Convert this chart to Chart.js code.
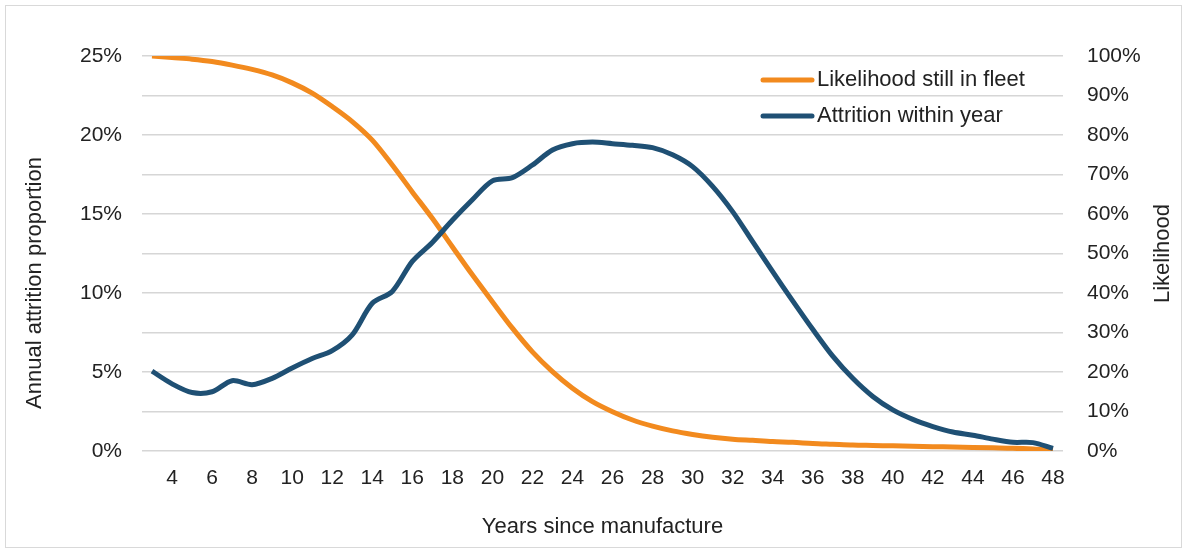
<!DOCTYPE html>
<html>
<head>
<meta charset="utf-8">
<script src="https://cdn.jsdelivr.net/npm/chart.js@4.4.1/dist/chart.umd.min.js"></script>
<style>
  html, body { margin: 0; padding: 0; background: #ffffff; }
  #wrap { width: 1187px; height: 553px; position: relative; }
</style>
</head>
<body>
<div id="wrap"><canvas id="c" width="1187" height="553"></canvas></div>
<script>
const years = [3,4,5,6,7,8,9,10,11,12,13,14,15,16,17,18,19,20,21,22,23,24,25,26,27,28,29,30,31,32,33,34,35,36,37,38,39,40,41,42,43,44,45,46,47,48];

const likelihoodStillInFleet = [100,99.6,99.2,98.6,97.7,96.6,95.2,93.2,90.6,87.2,83.4,78.7,72.4,65.6,58.9,51.7,44.6,37.8,31.1,25.1,20.1,15.9,12.5,9.95,7.85,6.3,5.1,4.2,3.5,3.0,2.7,2.4,2.2,1.9,1.7,1.5,1.4,1.3,1.2,1.1,1.0,0.9,0.8,0.7,0.5,0.2];

const attritionWithinYear = [5.05,4.25,3.7,3.75,4.45,4.2,4.6,5.25,5.85,6.35,7.35,9.35,10.1,12.0,13.2,14.6,15.9,17.1,17.3,18.1,19.05,19.45,19.55,19.45,19.35,19.2,18.75,18.0,16.75,15.15,13.25,11.35,9.5,7.7,6.0,4.6,3.45,2.6,2.0,1.55,1.2,1.0,0.75,0.55,0.53,0.17];

const leftTicks = [0,5,10,15,20,25];
const rightTicks = [0,10,20,30,40,50,60,70,80,90,100];

const seriesNames = ['Likelihood still in fleet', 'Attrition within year'];
const axisTitles = { x: 'Years since manufacture', left: 'Annual attrition proportion', right: 'Likelihood' };

const ORANGE = '#F28A1E';
const BLUE = '#1F5074';
const TEXT = '#222222';
const FONT = "'Liberation Sans', Arial, sans-serif";

const extrasPlugin = {
  id: 'extras',
  beforeDraw(chart) {
    const ctx = chart.ctx;
    ctx.save();
    ctx.fillStyle = '#ffffff';
    ctx.fillRect(0, 0, chart.width, chart.height);
    ctx.strokeStyle = '#d9d9d9';
    ctx.lineWidth = 1;
    ctx.strokeRect(5.5, 5.5, chart.width - 11, chart.height - 11);
    ctx.restore();
  },
  afterDraw(chart) {
    const ctx = chart.ctx;
    const area = chart.chartArea;
    ctx.save();
    // axis titles (both reading bottom-to-top)
    ctx.fillStyle = TEXT;
    ctx.font = "22px " + FONT;
    ctx.textAlign = 'center';
    ctx.textBaseline = 'middle';
    ctx.save();
    ctx.translate(35, 283);
    ctx.rotate(-Math.PI / 2);
    ctx.fillText(axisTitles.left, 0, 0);
    ctx.restore();
    ctx.save();
    ctx.translate(1163, (area.top + area.bottom) / 2);
    ctx.rotate(-Math.PI / 2);
    ctx.fillText(axisTitles.right, 0, 0);
    ctx.restore();
    // legend
    const items = [
      { text: seriesNames[0], color: ORANGE },
      { text: seriesNames[1], color: BLUE }
    ];
    ctx.font = "22px " + FONT;
    ctx.textAlign = 'left';
    items.forEach((it, i) => {
      const y = 80 + i * 36;
      ctx.strokeStyle = it.color;
      ctx.lineWidth = 5;
      ctx.lineCap = 'round';
      ctx.beginPath();
      ctx.moveTo(763, y);
      ctx.lineTo(812, y);
      ctx.stroke();
      ctx.fillStyle = TEXT;
      ctx.fillText(it.text, 817, y);
    });
    ctx.restore();
  }
};

new Chart(document.getElementById('c'), {
  type: 'line',
  data: {
    labels: years,
    datasets: [
      {
        label: seriesNames[0],
        data: likelihoodStillInFleet,
        yAxisID: 'yRight',
        borderColor: ORANGE,
        borderWidth: 5,
        pointRadius: 0,
        tension: 0.4,
        cubicInterpolationMode: 'monotone',
        order: 1,
        fill: false
      },
      {
        label: seriesNames[1],
        data: attritionWithinYear,
        yAxisID: 'yLeft',
        borderColor: BLUE,
        borderWidth: 5,
        pointRadius: 0,
        tension: 0.3,
        order: 0,
        fill: false
      }
    ]
  },
  plugins: [extrasPlugin],
  options: {
    responsive: false,
    animation: false,
    layout: { padding: { top: 56, left: 0, right: 0, bottom: 0 } },
    plugins: {
      legend: { display: false },
      tooltip: { enabled: false }
    },
    scales: {
      x: {
        type: 'category',
        offset: true,
        grid: { display: false, drawTicks: false },
        border: { display: false },
        ticks: {
          autoSkip: false,
          maxRotation: 0,
          minRotation: 0,
          padding: 15,
          color: TEXT,
          font: { family: FONT, size: 21 },
          callback: function(value, index) {
            const y = years[index];
            return y % 2 === 0 ? String(y) : '';
          }
        },
        title: {
          display: true,
          text: axisTitles.x,
          color: TEXT,
          font: { family: FONT, size: 22 },
          padding: { top: 0, bottom: 13 }
        },
        afterFit(scale) { scale.height = 102; }
      },
      yLeft: {
        type: 'linear',
        position: 'left',
        min: 0,
        max: 25,
        grid: { color: '#d6d6d6', lineWidth: 1.5, drawTicks: false },
        border: { display: false },
        ticks: {
          stepSize: 2.5,
          padding: 20,
          color: TEXT,
          font: { family: FONT, size: 21 },
          callback: function(v) { return leftTicks.includes(v) ? v + '%' : ''; }
        },
        afterFit(scale) { scale.width = 142; }
      },
      yRight: {
        type: 'linear',
        position: 'right',
        min: 0,
        max: 100,
        grid: { display: false, drawTicks: false },
        border: { display: false },
        ticks: {
          stepSize: 10,
          padding: 24,
          color: TEXT,
          font: { family: FONT, size: 21 },
          callback: function(v) { return rightTicks.includes(v) ? v + '%' : ''; }
        },
        afterFit(scale) { scale.width = 124; }
      }
    }
  }
});
</script>
</body>
</html>
